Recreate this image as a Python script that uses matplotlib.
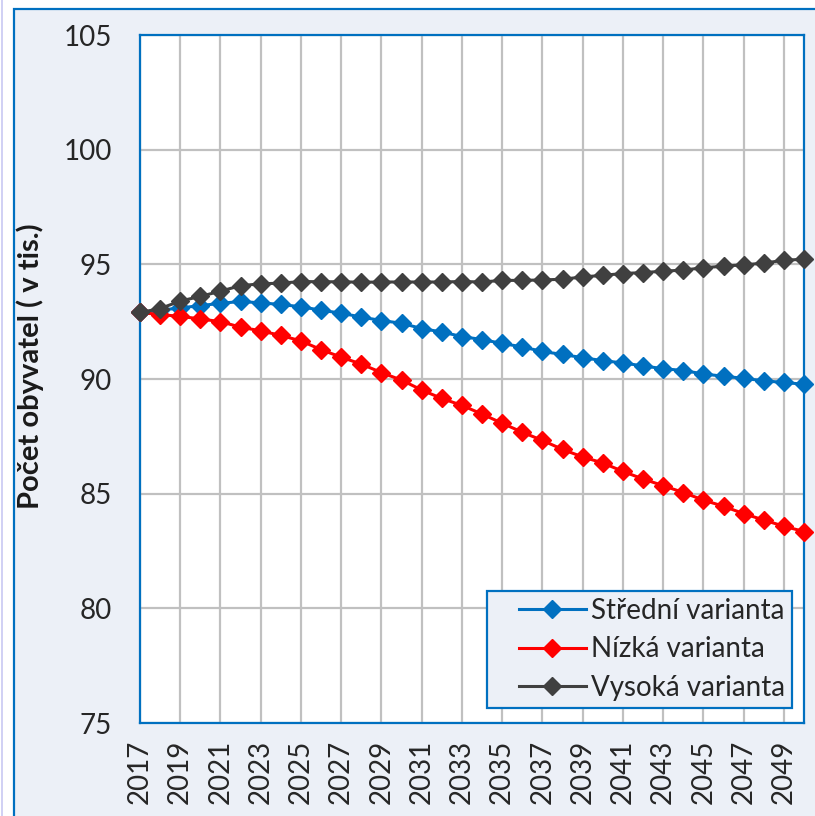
import matplotlib
matplotlib.use('Agg')
import matplotlib.pyplot as plt
import numpy as np
from matplotlib.patches import Rectangle
from matplotlib.lines import Line2D

plt.rcParams['font.family'] = ['Lato', 'DejaVu Sans']

# data
roky = list(range(2017, 2051))
stredni = [92.9, 93.0, 93.1, 93.2, 93.3, 93.38, 93.32, 93.25, 93.15, 93.0,
           92.87, 92.7, 92.55, 92.43, 92.2, 92.05, 91.85, 91.72, 91.55, 91.4,
           91.2, 91.07, 90.93, 90.8, 90.7, 90.57, 90.45, 90.37, 90.22, 90.12,
           90.03, 89.92, 89.85, 89.77]
nizka = [92.9, 92.81, 92.73, 92.62, 92.5, 92.26, 92.1, 91.9, 91.66, 91.28,
         90.95, 90.65, 90.28, 89.95, 89.52, 89.15, 88.85, 88.47, 88.07, 87.68,
         87.32, 86.93, 86.6, 86.34, 85.97, 85.64, 85.35, 85.05, 84.72, 84.45,
         84.13, 83.85, 83.58, 83.35]
vysoka = [92.9, 93.07, 93.4, 93.6, 93.83, 94.07, 94.15, 94.18, 94.25, 94.24,
          94.24, 94.22, 94.23, 94.23, 94.23, 94.23, 94.25, 94.23, 94.3, 94.3,
          94.32, 94.35, 94.45, 94.52, 94.6, 94.64, 94.7, 94.75, 94.85, 94.92,
          94.98, 95.05, 95.18, 95.22]
x_popisky = list(range(2017, 2050, 2))
y_popisky = [75, 80, 85, 90, 95, 100, 105]

modra = '#0070C0'
pozadi = '#ECF0F7'

W, H = 815, 816
fig = plt.figure(figsize=(W / 100, H / 100), dpi=100)
fig.patch.set_facecolor('white')

# vnejsi ramecek grafu
fig.patches.append(Rectangle((14 / W, -0.1), 1.1, (H - 9) / H + 0.1,
                             transform=fig.transFigure, facecolor=pozadi,
                             edgecolor=modra, linewidth=1.6, zorder=-10))
fig.lines.append(Line2D([1.5 / W, 1.5 / W], [0, 1], transform=fig.transFigure,
                        color='#C8C8F2', linewidth=1.2, zorder=-10))

ax = fig.add_axes([140 / W, (H - 723) / H, 664 / W, 688 / H])
ax.set_facecolor('white')

ax.plot(roky, stredni, color=modra, lw=2.2, marker='D', ms=9,
        label='Střední varianta', clip_on=False, zorder=3)
ax.plot(roky, nizka, color='#FF0000', lw=2.2, marker='D', ms=9,
        label='Nízká varianta', clip_on=False, zorder=3)
ax.plot(roky, vysoka, color='#404040', lw=2.2, marker='D', ms=9,
        label='Vysoká varianta', clip_on=False, zorder=3)

ax.set_xlim(2017, 2050)
ax.set_ylim(75, 105)
ax.set_xticks(x_popisky)
ax.set_xticklabels([str(r) for r in x_popisky], rotation=90)
ax.set_yticks(y_popisky)
ax.tick_params(axis='both', length=0, labelsize=20, colors='#262626')
ax.tick_params(axis='y', pad=20)
ax.tick_params(axis='x', pad=12)
ax.grid(True, color='#C0C0C0', linewidth=1.6)
ax.set_axisbelow(True)
for s in ax.spines.values():
    s.set_color(modra)
    s.set_linewidth(1.6)

ax.set_ylabel('Počet obyvatel ( v tis.)', fontsize=21, fontweight='bold',
              color='#1a1a1a')
ax.yaxis.set_label_coords((44 - 140) / 664, (723 - 366) / 688)

leg = ax.legend(loc='lower right', bbox_to_anchor=(0.982, 0.022),
                borderaxespad=0, fontsize=20, frameon=True, fancybox=False,
                handlelength=3.3, handletextpad=0.2, labelspacing=0.45,
                borderpad=0.25, labelcolor='#262626')
leg.get_frame().set_facecolor(pozadi)
leg.get_frame().set_edgecolor(modra)
leg.get_frame().set_linewidth(1.6)
leg.get_frame().set_alpha(1)

# volne misto pred carou v legende
for h in leg.legend_handles:
    xd = np.asarray(h.get_xdata(), dtype=float)
    h.set_xdata(np.linspace(xd[0] + 0.9 * 20, xd[-1], len(xd)))

fig.savefig('out.png', dpi=100)
